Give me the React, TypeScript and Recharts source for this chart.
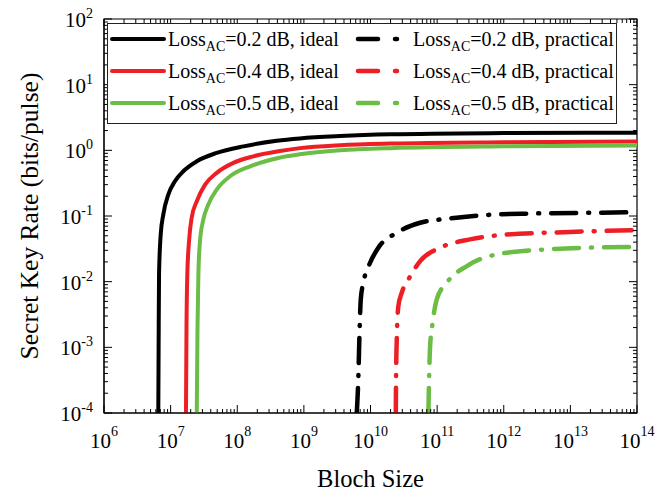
import React from "react";
import { Legend, Line, LineChart, ReferenceArea, XAxis, YAxis } from "recharts";

// Block size (x) and secret key rate (y)
const xMajorExps = [6, 7, 8, 9, 10, 11, 12, 13, 14];
const yMajorExps = [-4, -3, -2, -1, 0, 1, 2];

const idealSize02 = [6.53e6, 6.6e6, 6.7e6, 7.1e6, 7.76e6, 9.23e6, 1.16e7, 1.55e7, 2.47e7, 4.92e7, 1.24e8, 3.92e8, 8.7e8, 3.5e9, 2e10, 1e12, 1e14];
const idealRate02 = [1e-4, 9.3e-4, 0.0129, 0.0524, 0.105, 0.212, 0.338, 0.48, 0.681, 0.913, 1.15, 1.4, 1.52, 1.65, 1.75, 1.83, 1.86];

const idealSize04 = [1.7e7, 1.73e7, 1.78e7, 1.89e7, 2.07e7, 2.47e7, 3.29e7, 4.92e7, 8.74e7, 1.75e8, 4.14e8, 8.7e8, 3.5e9, 2e10, 1e12, 1e14];
const idealRate04 = [1e-4, 0.00188, 0.0129, 0.0414, 0.094, 0.168, 0.301, 0.454, 0.644, 0.811, 0.966, 1.08, 1.2, 1.27, 1.33, 1.36];

const idealSize05 = [2.47e7, 2.53e7, 2.61e7, 2.76e7, 3.1e7, 3.68e7, 4.92e7, 7.8e7, 1.56e8, 4.14e8, 8.7e8, 3.5e9, 2e10, 1e12, 1e14];
const idealRate05 = [1e-4, 0.00188, 0.0129, 0.0414, 0.0885, 0.15, 0.253, 0.403, 0.571, 0.766, 0.87, 1.0, 1.08, 1.15, 1.18];

const practSize02 = [6.22e9, 6.58e9, 6.82e9, 7.15e9, 7.82e9, 9.86e9, 1.31e10, 2.48e10, 5.56e10, 1.4e11, 4.43e11, 2.49e12, 7.9e13, 1e14];
const practRate02 = [1e-4, 3.67e-4, 0.00149, 0.0054, 0.0097, 0.0194, 0.0329, 0.0556, 0.0789, 0.0906, 0.102, 0.109, 0.114, 0.115];

const practSize04 = [2.4e10, 2.42e10, 2.48e10, 2.62e10, 2.95e10, 3.71e10, 5.56e10, 1.11e11, 3.13e11, 7.87e11, 7.89e12, 1e14];
const practRate04 = [1e-4, 3.67e-4, 0.00133, 0.00426, 0.0068, 0.0108, 0.0206, 0.0329, 0.044, 0.0506, 0.0568, 0.0608];

const practSize05 = [7.4e10, 7.59e10, 7.85e10, 8.32e10, 9.89e10, 1.4e11, 2.79e11, 7.87e11, 4.43e12, 1e14];
const practRate05 = [1e-4, 3.67e-4, 0.00105, 0.00188, 0.0054, 0.0097, 0.0173, 0.026, 0.031, 0.034];

const lossLabels = ["0.2", "0.4", "0.5"];
const colors = ["#000000", "#ed1f24", "#6cbd45"];

const FONT = "'Liberation Serif', 'Times New Roman', serif";
const PLOT_W = 533;
const PLOT_H = 394;
const DASH = "25 12 1 12";

const toPoints = (xs: number[], ys: number[]) => xs.map((n, i) => ({ n, r: ys[i] }));

const series = [
  { key: "i02", loss: lossLabels[0], kind: "ideal", color: colors[0], data: toPoints(idealSize02, idealRate02) },
  { key: "i04", loss: lossLabels[1], kind: "ideal", color: colors[1], data: toPoints(idealSize04, idealRate04) },
  { key: "i05", loss: lossLabels[2], kind: "ideal", color: colors[2], data: toPoints(idealSize05, idealRate05) },
  { key: "p02", loss: lossLabels[0], kind: "practical", color: colors[0], data: toPoints(practSize02, practRate02) },
  { key: "p04", loss: lossLabels[1], kind: "practical", color: colors[1], data: toPoints(practSize04, practRate04) },
  { key: "p05", loss: lossLabels[2], kind: "practical", color: colors[2], data: toPoints(practSize05, practRate05) },
];

const mantissas = [1, 2, 3, 4, 5, 6, 7, 8, 9];
const logTicks = (exps: number[]) => {
  const out: number[] = [];
  exps.forEach((e, i) => {
    mantissas.forEach((m) => {
      if (i === exps.length - 1 && m > 1) return;
      out.push(m * Math.pow(10, e));
    });
  });
  return out;
};
const xTicks = logTicks(xMajorExps);
const yTicks = logTicks(yMajorExps);

const majorExp = (v: number) => {
  const l = Math.log10(v);
  const e = Math.round(l);
  return Math.abs(l - e) < 1e-6 ? e : null;
};

function XTick(props: any) {
  const { x, y, payload } = props;
  const e = majorExp(payload.value);
  const len = e !== null ? 8 : 4;
  return (
    <g>
      <line x1={x} y1={y} x2={x} y2={y - len} stroke="#000" />
      <line x1={x} y1={y - PLOT_H} x2={x} y2={y - PLOT_H + len} stroke="#000" />
      {e !== null && (
        <text x={x} y={y + 35} textAnchor="middle" fontSize={21} fontFamily={FONT} fill="#000">
          10
          <tspan dy={-12} fontSize={14}>{e}</tspan>
        </text>
      )}
    </g>
  );
}

function YTick(props: any) {
  const { x, y, payload } = props;
  const e = majorExp(payload.value);
  const len = e !== null ? 8 : 4;
  return (
    <g>
      <line x1={x} y1={y} x2={x + len} y2={y} stroke="#000" />
      <line x1={x + PLOT_W} y1={y} x2={x + PLOT_W - len} y2={y} stroke="#000" />
      {e !== null && (
        <text x={x - 11} y={y + 8} textAnchor="end" fontSize={21} fontFamily={FONT} fill="#000">
          10
          <tspan dy={-9} fontSize={14}>{e}</tspan>
        </text>
      )}
    </g>
  );
}

function LegendBox() {
  return (
    <svg width={510} height={101} style={{ display: "block" }}>
      <rect x={0.5} y={0.5} width={509} height={100} fill="#fff" stroke="#222" />
      {series.map((s, i) => {
        const col = s.kind === "ideal" ? 0 : 1;
        const row = i % 3;
        const cy = 16 + row * 32;
        const x0 = col === 0 ? 5 : 249;
        const tx = col === 0 ? 61 : 306;
        return (
          <g key={s.key}>
            {col === 0 ? (
              <line x1={x0} y1={cy} x2={x0 + 52} y2={cy} stroke={s.color} strokeWidth={4} strokeLinecap="round" />
            ) : (
              <g>
                <line x1={x0 + 2} y1={cy} x2={x0 + 22} y2={cy} stroke={s.color} strokeWidth={4.5} strokeLinecap="round" />
                <line x1={x0 + 39} y1={cy} x2={x0 + 41} y2={cy} stroke={s.color} strokeWidth={4.5} strokeLinecap="round" />
              </g>
            )}
            <text x={tx} y={cy + 7} fontSize={20} fontFamily={FONT} fill="#000">
              Loss
              <tspan dy={5} fontSize={14}>AC</tspan>
              <tspan dy={-5}>{`=${s.loss} dB, ${s.kind}`}</tspan>
            </text>
          </g>
        );
      })}
    </svg>
  );
}

export default function App() {
  return (
    <div style={{ position: "absolute", left: 0, top: 0, width: 659, height: 494, background: "#fff" }}>
      <LineChart width={659} height={494} margin={{ top: 19, right: 22, bottom: 0, left: 0 }}>
        <XAxis
          dataKey="n"
          type="number"
          scale="log"
          domain={[1e6, 1e14]}
          allowDataOverflow
          ticks={xTicks}
          interval={0}
          height={81}
          tickSize={0}
          tickMargin={0}
          tickLine={false}
          axisLine={{ stroke: "#000" }}
          tick={<XTick />}
          label={{ value: "Bloch Size", position: "insideBottom", offset: 7, fontSize: 24.5, fontFamily: FONT, fill: "#000" }}
        />
        <YAxis
          type="number"
          scale="log"
          domain={[1e-4, 1e2]}
          allowDataOverflow
          ticks={yTicks}
          interval={0}
          width={104}
          tickSize={0}
          tickMargin={0}
          tickLine={false}
          axisLine={{ stroke: "#000" }}
          tick={<YTick />}
          label={{
            value: "Secret Key Rate (bits/pulse)",
            angle: -90,
            position: "insideLeft",
            offset: 29,
            style: { textAnchor: "middle" },
            fontSize: 25.5,
            fontFamily: FONT,
            fill: "#000",
          }}
        />
        <ReferenceArea x1={1e6} x2={1e14} y1={1e-4} y2={1e2} fill="none" stroke="#000" strokeWidth={1.2} ifOverflow="visible" />
        {series.map((s) => (
          <Line
            key={s.key}
            data={s.data}
            dataKey="r"
            name={s.key}
            type="monotone"
            stroke={s.color}
            strokeWidth={s.kind === "ideal" ? 4 : 4.5}
            strokeDasharray={s.kind === "ideal" ? undefined : DASH}
            strokeLinecap={s.kind === "ideal" ? "butt" : "round"}
            dot={false}
            activeDot={false}
            isAnimationActive={false}
          />
        ))}
        <Legend
          layout="horizontal"
          verticalAlign="middle"
          align="center"
          content={() => <LegendBox />}
          wrapperStyle={{ left: 107, top: 23, width: 510, height: 101, margin: 0, padding: 0, lineHeight: 0 }}
        />
      </LineChart>
    </div>
  );
}
